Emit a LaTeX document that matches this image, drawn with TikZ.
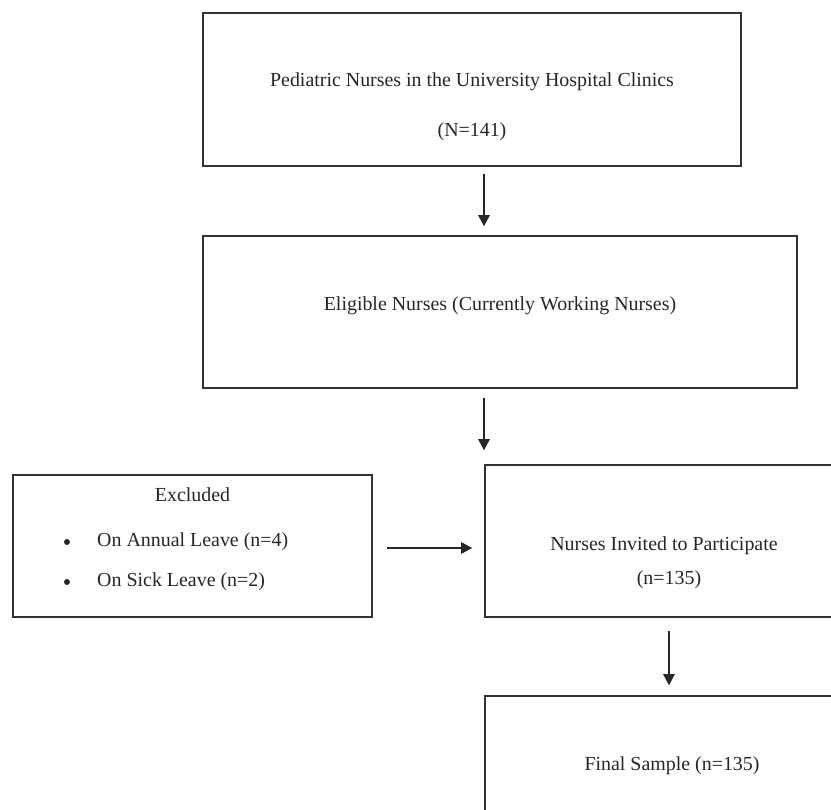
\documentclass[tikz,border=0pt]{standalone}
\usepackage{fontspec}
\setmainfont{Liberation Serif}
\usetikzlibrary{arrows.meta, positioning, calc}
\tikzset{
    stage/.style={
        rectangle,
        draw=black!80,
        line width=1.3pt,
        inner sep=0pt
    },
    txt/.style={
        font=\fontsize{17}{20}\selectfont,
        text=black!85,
        inner sep=0pt
    },
    flow/.style={
        draw=black!85,
        line width=1.3pt,
        -{Triangle[length=0.33cm, width=0.34cm]}
    }
}
\begin{document}
\begin{tikzpicture}[x=0.03cm, y=-0.03cm]

\useasboundingbox (0,0) rectangle (831,810);
\clip (0,0) rectangle (831,810);

% Population
\node[stage, minimum width=538*0.03cm, minimum height=153*0.03cm] (pop) at (472,89.5) {};
\node[txt] (poptxt) at (472,82) {Pediatric Nurses in the University Hospital Clinics};
\node[txt] (popn) at (472,132) {(N=141)};

% Eligible
\node[stage, minimum width=594*0.03cm, minimum height=152*0.03cm] (elig) at (500,312) {};
\node[txt] (eligtxt) at (500,306) {Eligible Nurses (Currently Working Nurses)};

% Excluded
\node[stage, minimum width=359*0.03cm, minimum height=142*0.03cm] (excl) at (192.5,546) {};
\node[txt] (excltxt) at (192.5,495) {Excluded};
\node[txt, anchor=west] (ex1) at (97,542) {On Annual Leave (n=4)};
\node[txt, anchor=west] (ex2) at (97,582) {On Sick Leave (n=2)};
\fill[black!85] ($(ex1.west)+(-30,0)$) circle (0.09cm);
\fill[black!85] ($(ex2.west)+(-30,0)$) circle (0.09cm);

% Invited
\node[stage, minimum width=358*0.03cm, minimum height=152*0.03cm] (inv) at (664,541) {};
\node[txt] (invtxt) at (664,546) {Nurses Invited to Participate};
\node[txt] (invn) at (669,580) {(n=135)};

% Final
\node[stage, minimum width=358*0.03cm, minimum height=140*0.03cm] (final) at (664,766) {};
\node[txt] (finaltxt) at (672,766) {Final Sample (n=135)};

\coordinate (colA) at (484,0);
\coordinate (colB) at (669,0);

\draw[flow, shorten <=7*0.03cm, shorten >=9*0.03cm] (pop.south -| colA) -- (elig.north -| colA);
\draw[flow, shorten <=9*0.03cm, shorten >=14*0.03cm] (elig.south -| colA) -- (inv.north west -| colA);
\draw[flow, shorten <=14*0.03cm, shorten >=12*0.03cm] (excl.east |- 0,548) -- (inv.west |- 0,548);
\draw[flow, shorten <=13*0.03cm, shorten >=10*0.03cm] (inv.south -| colB) -- (final.north -| colB);

\end{tikzpicture}
\end{document}
